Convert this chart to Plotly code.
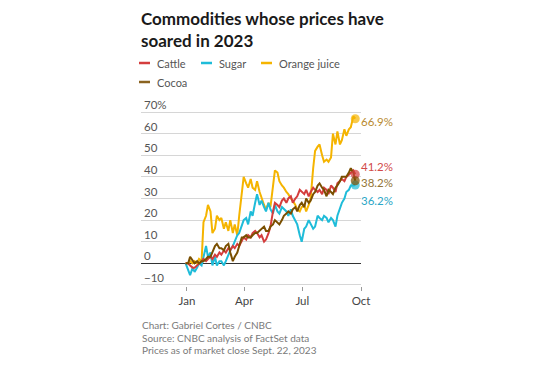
import plotly.graph_objects as go

dates = [
    "2022-12-30",
    "2023-01-03", "2023-01-06", "2023-01-10", "2023-01-13", "2023-01-17", "2023-01-20", "2023-01-24", "2023-01-27", "2023-01-31",
    "2023-02-03", "2023-02-07", "2023-02-10", "2023-02-14", "2023-02-17", "2023-02-21", "2023-02-24", "2023-02-28",
    "2023-03-03", "2023-03-07", "2023-03-10", "2023-03-14", "2023-03-17", "2023-03-21", "2023-03-24", "2023-03-28", "2023-03-31",
    "2023-04-04", "2023-04-07", "2023-04-11", "2023-04-14", "2023-04-18", "2023-04-21", "2023-04-25", "2023-04-28",
    "2023-05-02", "2023-05-05", "2023-05-09", "2023-05-12", "2023-05-16", "2023-05-19", "2023-05-23", "2023-05-26", "2023-05-30",
    "2023-06-02", "2023-06-06", "2023-06-09", "2023-06-13", "2023-06-16", "2023-06-20", "2023-06-23", "2023-06-27", "2023-06-30",
    "2023-07-04", "2023-07-07", "2023-07-11", "2023-07-14", "2023-07-18", "2023-07-21", "2023-07-25", "2023-07-28",
    "2023-08-01", "2023-08-04", "2023-08-08", "2023-08-11", "2023-08-15", "2023-08-18", "2023-08-22", "2023-08-25", "2023-08-29",
    "2023-09-01", "2023-09-05", "2023-09-08", "2023-09-12", "2023-09-15", "2023-09-19", "2023-09-22",
]

orange_juice = [
    0,
    0, 1, 0, 1, 0, 2, 1, 19, 22,
    27, 24, 14, 16, 22, 20, 21, 16,
    19, 15, 20, 14, 18, 13, 22, 33, 40,
    37, 35, 39, 35, 34, 38, 33, 30,
    27, 25, 28, 26, 36, 43, 42, 38, 36,
    35, 33, 32, 30, 29, 27, 25, 24, 26,
    27, 24, 27, 30, 44, 52, 54, 55,
    50, 47, 48, 47, 49, 60, 55, 61, 55,
    57, 62, 59, 62, 63, 68, 66.9,
]

sugar = [
    0,
    -3, -5.5, -2, -4, -2, 0, -1, 3, 8,
    3, 5, -1, 3, -1, 1, 1, -1,
    1, 4, 6, 8, 10, 13, 14, 17, 20,
    21, 18, 24, 22, 28, 32, 27, 29,
    26, 24, 28, 25, 23, 27, 24, 23, 26,
    25, 24, 22, 25, 22, 20, 18, 13, 10,
    16, 17, 20, 18, 16, 17, 22, 21,
    20, 22, 21, 19, 21, 20, 17, 22, 26,
    28, 30, 33, 34, 36, 36, 36.2,
]

cattle = [
    0,
    0, -1, -2, -2, -1, 0, 1, 2, 1,
    2, 3, 2, 4, 3, 5, 4, 6,
    5, 7, 6, 8, 7, 9, 8, 10, 12,
    11, 13, 12, 14, 15, 14, 12, 13,
    10, 11, 14, 17, 24, 28, 27, 26, 29,
    30, 28, 30, 31, 28, 30, 31, 34, 33,
    32, 34, 31, 33, 35, 34, 33, 34,
    32, 35, 34, 32, 36, 35, 33, 37, 38,
    39, 38, 40, 41, 42, 43, 41.2,
]

cocoa = [
    0,
    0, 3, 1, 0, 1, 0, 1, 1, 2,
    3, 3, 5, 8, 9, 7, 7, 6,
    8, 9, 5, 1, 3, 5, 8, 12, 12,
    13, 12, 12, 13, 14, 14, 15, 16,
    17, 15, 15, 17, 18, 20, 19, 18, 20,
    22, 23, 24, 23, 25, 26, 24, 27, 28,
    26, 30, 28, 29, 32, 33, 36, 37,
    35, 34, 31, 34, 33, 32, 35, 36, 38,
    40, 40, 40, 42, 44, 42, 38.2,
]

series_names = ["Orange juice", "Sugar", "Cattle", "Cocoa"]
series_values = [orange_juice, sugar, cattle, cocoa]
line_colors = ["#f5b400", "#1fbcd9", "#d43d3d", "#7a4f00"]
label_colors = ["#b98a2e", "#2aa6c6", "#d24a4a", "#937536"]
label_yshift = [-3, -15, 8, -2]

legend_names = ["Cattle", "Sugar", "Orange juice", "Cocoa"]
legend_colors = ["#d43d3d", "#1fbcd9", "#f5b400", "#8a6320"]

y_tickvals = [-10, 0, 10, 20, 30, 40, 50, 60, 70]
y_ticktext = ["\u221210", "0", "10", "20", "30", "40", "50", "60", "70%"]
x_tickvals = ["2023-01-01", "2023-04-01", "2023-07-01", "2023-10-01"]
x_ticktext = ["Jan", "Apr", "Jul", "Oct"]

FONT = "Lato"

fig = go.Figure()

for name, vals, col in zip(series_names, series_values, line_colors):
    fig.add_trace(go.Scatter(
        x=dates, y=vals, mode="lines", name=name,
        line=dict(color=col, width=2), showlegend=False, hoverinfo="skip",
    ))

for name, vals, col, lcol, ysh in zip(series_names, series_values, line_colors, label_colors, label_yshift):
    fig.add_trace(go.Scatter(
        x=[dates[-1]], y=[vals[-1]], mode="markers", showlegend=False,
        marker=dict(color=col, size=9, opacity=0.7), hoverinfo="skip",
    ))
    fig.add_annotation(
        x=dates[-1], y=vals[-1], xref="x", yref="y",
        text=f"{vals[-1]:.1f}%", showarrow=False,
        xanchor="left", yanchor="middle", xshift=4, yshift=ysh,
        font=dict(family=FONT, size=11.5, color=lcol),
    )

# page body has an 8px default margin: work in screen pixels minus that offset
OFF = 8
W, H = 540, 375
ML = 141 - OFF
MR = W - (361 - OFF)
MB = 97                      # plot bottom a hair below the -10 gridline
MT = 90                      # room above the 70% gridline for its label
PW = W - ML - MR
PH = H - MT - MB

def px_x(p):
    return (p - OFF - ML) / PW

def px_y(p):
    return (H - MB - (p - OFF)) / PH

# legend (swatch + label), screen pixel positions
legend_pos = [(139, 63), (201, 63), (261, 63), (139, 82)]
for name, col, (lx, ly) in zip(legend_names, legend_colors, legend_pos):
    fig.add_shape(type="line", xref="paper", yref="paper",
                  x0=px_x(lx), x1=px_x(lx + 11), y0=px_y(ly), y1=px_y(ly),
                  line=dict(color=col, width=2.5))
    fig.add_annotation(x=px_x(lx + 16), y=px_y(ly), xref="paper", yref="paper",
                       text=name, showarrow=False, xanchor="left", yanchor="middle",
                       font=dict(family=FONT, size=11, color="#555555"))

footer = ["Chart: Gabriel Cortes / CNBC",
          "Source: CNBC analysis of FactSet data",
          "Prices as of market close Sept. 22, 2023"]
for i, t in enumerate(footer):
    fig.add_annotation(x=px_x(141), y=px_y(325 + 12.5 * i), xref="paper", yref="paper",
                       text=t, showarrow=False, xanchor="left", yanchor="middle",
                       xshift=-1,
                       font=dict(family=FONT, size=10, color="#7a7a7a"))

fig.update_layout(
    template="none",
    width=W, height=H,
    margin=dict(l=ML, r=MR, t=MT, b=MB, autoexpand=False),
    paper_bgcolor="white", plot_bgcolor="white",
    title=dict(text="<b>Commodities whose prices have<br>soared in 2023</b>",
               x=(141 - OFF) / W, xanchor="left", xref="container",
               y=1 - 17 / H, yanchor="top", yref="container",
               font=dict(family=FONT, size=17, color="#1a1a1a")),
    showlegend=False,
    xaxis=dict(type="date", range=["2022-10-21", "2023-10-01"],
               tickvals=x_tickvals, ticktext=x_ticktext, automargin=False,
               showgrid=False, zeroline=False, showline=False,
               ticks="outside", ticklen=4, tickcolor="#999999", tickwidth=1,
               tickfont=dict(family=FONT, size=11.5, color="#444444")),
    yaxis=dict(range=[-10.5, 76.5], tickvals=y_tickvals, ticktext=y_ticktext,
               automargin=False,
               showgrid=True, gridcolor="#d6d6d6", gridwidth=1,
               zeroline=True, zerolinecolor="#333333", zerolinewidth=1.3,
               showline=False, ticks="",
               ticklabelposition="inside", ticklabelshift=-7, ticklabelstandoff=0,
               tickfont=dict(family=FONT, size=11.5, color="#555555")),
)

fig.write_html("out.html")
